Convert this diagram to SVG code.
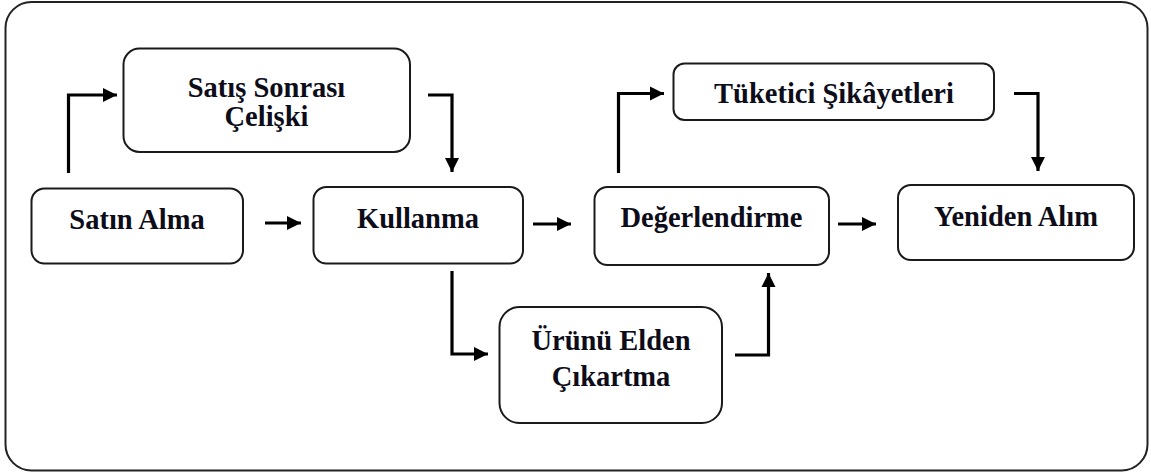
<svg xmlns="http://www.w3.org/2000/svg" width="1151" height="474" viewBox="0 0 1151 474">
<style>
.box{fill:#fff;stroke:#1a1a1a;stroke-width:2}
.lbl{font-weight:bold;font-size:28.5px;fill:#0d0d1a;text-anchor:middle}
.con{fill:none;stroke:#000;stroke-width:3.2;stroke-linejoin:miter}
</style>
<defs>
<marker id="ah" viewBox="0 0 10 10" refX="10" refY="5" markerWidth="4.4" markerHeight="4.4" markerUnits="strokeWidth" orient="auto">
<path d="M0,0 L10,5 L0,10 Z" fill="#000"/>
</marker>
</defs>
<rect x="5.5" y="2" width="1142" height="468.5" rx="26" ry="26" fill="#fff" stroke="#222" stroke-width="2"/>
<g id="connectors">
<path class="con" d="M68.5,173 V95 H117" marker-end="url(#ah)"/>
<path class="con" d="M428,95 H452 V172" marker-end="url(#ah)"/>
<path class="con" d="M265,223 H301" marker-end="url(#ah)"/>
<path class="con" d="M533,224 H571" marker-end="url(#ah)"/>
<path class="con" d="M618.5,173 V93.5 H664" marker-end="url(#ah)"/>
<path class="con" d="M1014,93.5 H1038 V171" marker-end="url(#ah)"/>
<path class="con" d="M838,224 H876" marker-end="url(#ah)"/>
<path class="con" d="M452,271 V354 H488" marker-end="url(#ah)"/>
<path class="con" d="M735,355 H768.5 V273" marker-end="url(#ah)"/>
</g>
<g id="nodes" font-family="Liberation Serif, Times New Roman, Tinos, DejaVu Serif, serif">
<g id="satis-sonrasi">
<rect class="box" x="123.5" y="48.5" width="286.5" height="103.5" rx="16"/>
<text class="lbl" x="266.5" y="97">Satış Sonrası</text>
<text class="lbl" x="266.5" y="126">Çelişki</text>
</g>
<g id="satin-alma">
<rect class="box" x="31.5" y="188.5" width="211.5" height="75" rx="13"/>
<text class="lbl" x="137" y="229">Satın Alma</text>
</g>
<g id="kullanma">
<rect class="box" x="313.5" y="187" width="209.5" height="76.5" rx="13"/>
<text class="lbl" x="418" y="227.5">Kullanma</text>
</g>
<g id="degerlendirme">
<rect class="box" x="594.5" y="187" width="234.5" height="78" rx="13"/>
<text class="lbl" x="711.5" y="227">Değerlendirme</text>
</g>
<g id="yeniden-alim">
<rect class="box" x="898" y="185" width="236" height="75" rx="13"/>
<text class="lbl" x="1016" y="225.5">Yeniden Alım</text>
</g>
<g id="tuketici-sikayetleri">
<rect class="box" x="673.5" y="63.5" width="320.5" height="56.5" rx="11"/>
<text class="lbl" x="834" y="103">Tüketici Şikâyetleri</text>
</g>
<g id="urunu-elden-cikartma">
<rect class="box" x="499.5" y="307" width="222.5" height="116" rx="20"/>
<text class="lbl" x="611" y="349.5">Ürünü Elden</text>
<text class="lbl" x="611" y="385.5">Çıkartma</text>
</g>
</g>
</svg>
